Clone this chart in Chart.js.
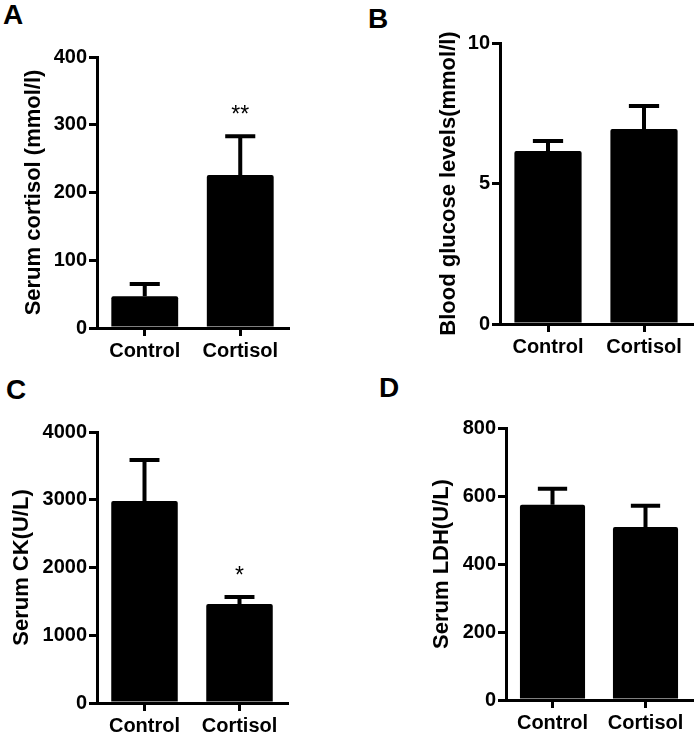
<!DOCTYPE html>
<html>
<head>
<meta charset="utf-8">
<script src="https://cdn.jsdelivr.net/npm/chart.js@4/dist/chart.umd.min.js"></script>
<style>
  body { margin: 0; background: #fff; }
  #wrap { position: relative; width: 700px; height: 736px; overflow: hidden; }
  canvas { position: absolute; }
  .tag { position: absolute; font: bold 28px "Liberation Sans", Arial, sans-serif; line-height: 28px; color: #000; }
</style>
</head>
<body>
<div id="wrap">
  <div class="tag" style="left:3px;top:1px">A</div>
  <div class="tag" style="left:368px;top:5px">B</div>
  <div class="tag" style="left:6px;top:376px">C</div>
  <div class="tag" style="left:379px;top:374px">D</div>
  <canvas id="chartA" width="350" height="370" style="left:0;top:0"></canvas>
  <canvas id="chartB" width="350" height="370" style="left:350px;top:0"></canvas>
  <canvas id="chartC" width="350" height="366" style="left:0;top:370px"></canvas>
  <canvas id="chartD" width="350" height="366" style="left:350px;top:370px"></canvas>
</div>
<script>
// data (mean and SEM)
const groups = ['Control', 'Cortisol'];

const cortisolMean = [47, 226];
const cortisolErr = [18, 57];
const cortisolStars = ['', '**'];

const glucoseMean = [6.16, 6.94];
const glucoseErr = [0.35, 0.82];

const ckMean = [2982, 1461];
const ckErr = [605, 104];
const ckStars = ['', '*'];

const ldhMean = [574, 509];
const ldhErr = [47, 62];

const FONT = '"Liberation Sans", Arial, sans-serif';

// error bars + significance marks
const errorBars = {
    id: 'errorBars',
    afterDatasetsDraw(chart, args, opts) {
        const ctx = chart.ctx;
        const yScale = chart.scales.y;
        const meta = chart.getDatasetMeta(0);
        const means = chart.data.datasets[0].data;
        ctx.save();
        ctx.strokeStyle = '#000';
        ctx.lineWidth = 4;
        meta.data.forEach((bar, i) => {
            const top = yScale.getPixelForValue(means[i] + opts.errors[i]);
            const cap = bar.width * 0.45;
            ctx.beginPath();
            ctx.moveTo(bar.x, bar.y);
            ctx.lineTo(bar.x, top);
            ctx.moveTo(bar.x - cap / 2, top);
            ctx.lineTo(bar.x + cap / 2, top);
            ctx.stroke();
            const star = (opts.stars || [])[i];
            if (star) {
                ctx.fillStyle = '#000';
                ctx.font = '23px ' + FONT;
                ctx.textAlign = 'center';
                ctx.textBaseline = 'alphabetic';
                ctx.fillText(star, bar.x, top - 14);
            }
        });
        ctx.restore();
    }
};

function makeChart(id, cfg) {
    const ctx = document.getElementById(id).getContext('2d');
    return new Chart(ctx, {
        type: 'bar',
        data: {
            labels: groups,
            datasets: [{
                data: cfg.means,
                backgroundColor: '#000',
                borderWidth: 0,
                borderRadius: 2,
                barPercentage: 0.7,
                categoryPercentage: 1
            }]
        },
        options: {
            responsive: false,
            animation: false,
            devicePixelRatio: 1,
            layout: { padding: { left: 0, top: cfg.top, right: cfg.right, bottom: 0 } },
            plugins: {
                legend: { display: false },
                tooltip: { enabled: false },
                errorBars: { errors: cfg.errors, stars: cfg.stars }
            },
            scales: {
                x: {
                    grid: { drawOnChartArea: false, offset: false, color: '#000', lineWidth: 3, tickLength: 8 },
                    border: { color: '#000', width: 3 },
                    ticks: { color: '#000', padding: 3, font: { family: FONT, size: 20, weight: 'bold' } },
                    afterFit: s => { s.height = cfg.xHeight; }
                },
                y: {
                    min: 0,
                    max: cfg.max,
                    grid: { drawOnChartArea: false, color: '#000', lineWidth: 3, tickLength: 8 },
                    border: { color: '#000', width: 3 },
                    ticks: {
                        stepSize: cfg.step, color: '#000', padding: 2,
                        font: { family: FONT, size: 20, weight: 'bold' },
                        callback: v => String(v)
                    },
                    title: {
                        display: true,
                        text: cfg.title,
                        color: '#000',
                        padding: { top: cfg.titlePad, bottom: 0 },
                        font: { family: FONT, size: 22, weight: 'bold', lineHeight: 1.2 }
                    },
                    afterFit: s => { s.width = cfg.yWidth; }
                }
            }
        },
        plugins: [errorBars]
    });
}

makeChart('chartA', {
    means: cortisolMean, errors: cortisolErr, stars: cortisolStars,
    max: 400, step: 100, title: 'Serum cortisol (mmol/l)',
    top: 57, right: 62, yWidth: 97, xHeight: 42, titlePad: 21
});
makeChart('chartB', {
    means: glucoseMean, errors: glucoseErr,
    max: 10, step: 5, title: 'Blood glucose levels(mmol/l)',
    top: 43, right: 8, yWidth: 150, xHeight: 46, titlePad: 86
});
makeChart('chartC', {
    means: ckMean, errors: ckErr, stars: ckStars,
    max: 4000, step: 1000, title: 'Serum CK(U/L)',
    top: 62, right: 63, yWidth: 97, xHeight: 33, titlePad: 9
});
makeChart('chartD', {
    means: ldhMean, errors: ldhErr,
    max: 800, step: 200, title: 'Serum LDH(U/L)',
    top: 58, right: 8, yWidth: 156, xHeight: 36, titlePad: 79
});
</script>
</body>
</html>
